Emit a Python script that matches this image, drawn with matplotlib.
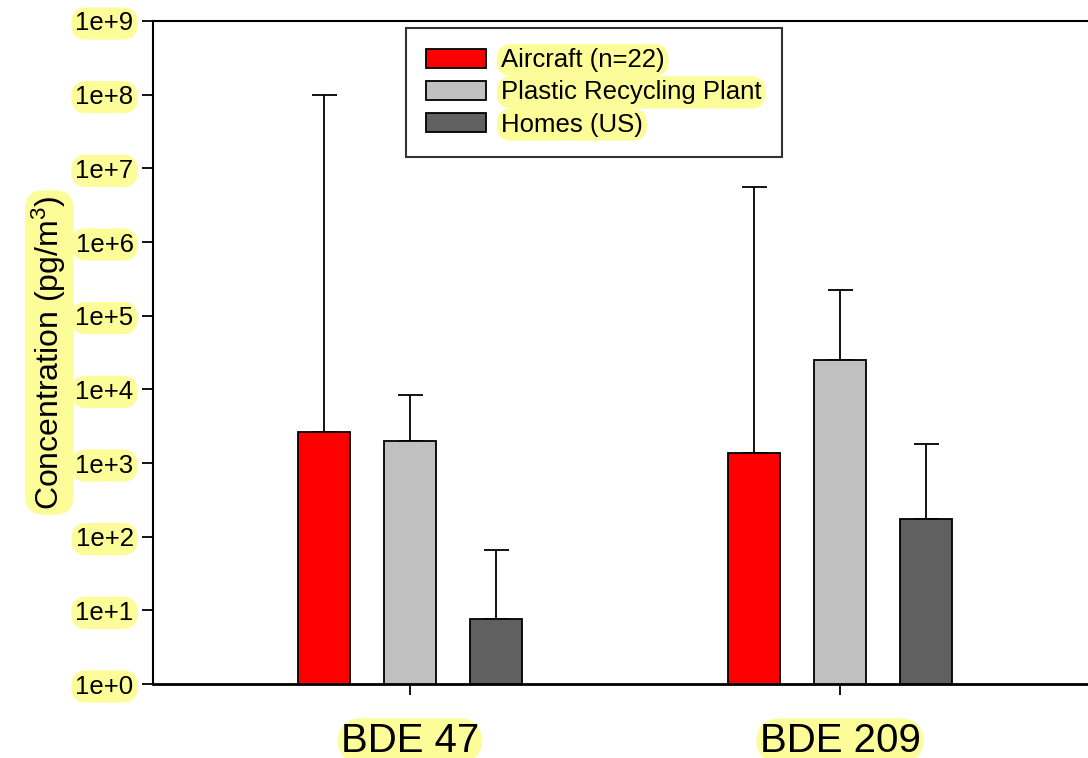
import matplotlib
matplotlib.use("Agg")
import matplotlib.pyplot as plt
import numpy as np

plt.rcParams['font.family'] = ['Liberation Sans', 'DejaVu Sans']
plt.rcParams['mathtext.fontset'] = 'custom'
plt.rcParams['mathtext.rm'] = 'Liberation Sans'
plt.rcParams['mathtext.it'] = 'Liberation Sans'

# data
groups = ['BDE 47', 'BDE 209']
series = ['Aircraft (n=22)', 'Plastic Recycling Plant', 'Homes (US)']
colors = ['#ff0000', '#c0c0c0', '#606060']
means = [
    [2630, 1370],     # aircraft
    [2000, 25000],    # plastic recycling plant
    [7.6, 174],       # homes
]
err_top = [
    [1.0e8, 5.6e6],
    [8400, 2.2e5],
    [66, 1800],
]
ytick_labels = ['1e+%d' % i for i in range(10)]

hl = dict(boxstyle='round,pad=0.16,rounding_size=0.6', fc='#fcfc98', ec='none')
hl_x = dict(boxstyle='round,pad=0.08,rounding_size=0.6', fc='#fcfc98', ec='none')

fig = plt.figure(figsize=(10.88, 7.58), dpi=100)
ax = fig.add_axes([0.1406, 0.0976, 0.8594, 0.8747])

x = np.arange(len(groups))
offs = [-0.2, 0.0, 0.2]
width = 0.119
for i in range(len(series)):
    m = np.array(means[i])
    up = np.array(err_top[i]) - m
    ax.bar(x + offs[i], m, width, color=colors[i], edgecolor='black',
           linewidth=1.3, label=series[i], zorder=2)
    ax.errorbar(x + offs[i], m, yerr=[np.zeros_like(m), up], fmt='none',
                ecolor='black', elinewidth=1.3, capsize=9, capthick=1.3, zorder=1)

ax.set_yscale('log')
ax.set_ylim(1, 1e9)
ax.set_xlim(-0.598, 1.577)
ax.set_yticks([10.0 ** i for i in range(10)])
ax.set_yticklabels(ytick_labels)
ax.yaxis.set_minor_locator(matplotlib.ticker.NullLocator())
ax.set_xticks(x)
ax.set_xticklabels(groups)
ax.tick_params(axis='y', direction='out', length=8, width=1.3, labelsize=18.5, pad=6)
ax.tick_params(axis='x', direction='out', length=8, width=1.3, labelsize=29, pad=19)
for t in ax.get_yticklabels():
    t.set_bbox(hl)
for t in ax.get_xticklabels():
    t.set_bbox(hl_x)

ax.spines['right'].set_visible(False)
ax.spines['top'].set_linewidth(1.5)
ax.spines['left'].set_linewidth(1.5)
ax.spines['bottom'].set_linewidth(2)

ax.set_ylabel('Concentration (pg/m$^3$)', fontsize=23, labelpad=5, bbox=hl)

leg = ax.legend(loc='upper left', bbox_to_anchor=(0.2705, 0.99), fontsize=18.5,
                frameon=True, fancybox=False, edgecolor='black',
                handlelength=2.3, handleheight=0.78, handletextpad=0.6,
                labelspacing=0.32, borderpad=0.8, borderaxespad=0)
leg.get_frame().set_linewidth(1.5)
for t in leg.get_texts():
    t.set_bbox(hl)

fig.savefig('out.png', dpi=100)
